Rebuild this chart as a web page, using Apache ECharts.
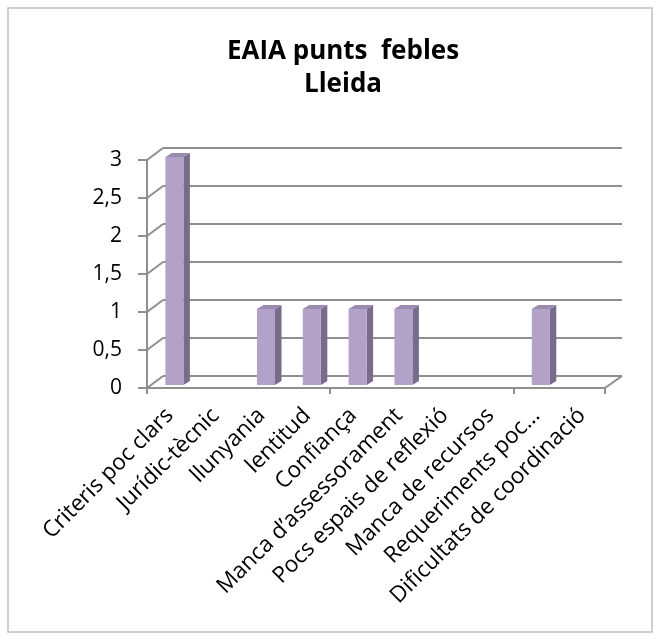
<!DOCTYPE html>
<html>
<head>
<meta charset="utf-8">
<script src="https://cdn.jsdelivr.net/npm/echarts@6/dist/echarts.min.js"></script>
<style>
html,body{margin:0;padding:0;background:#fff;}
#chart{width:661px;height:640px;}
</style>
</head>
<body>
<div id="chart"></div>
<script>
var titleLines = ['EAIA punts  febles', 'Lleida'];
var categories = ['Criteris poc clars', 'Jurídic-tècnic', 'llunyania', 'lentitud', 'Confiança',
  'Manca d\u2019assessorament', 'Pocs espais de reflexió', 'Manca de recursos', 'Requeriments poc…',
  'Dificultats de coordinació'];
var values = [3, 0, 1, 1, 1, 1, 0, 0, 1, 0];
var yTicks = [0, 0.5, 1, 1.5, 2, 2.5, 3];
var yTickLabels = ['0', '0,5', '1', '1,5', '2', '2,5', '3'];

var FONT = 'Open Sans';
var GRID = '#8f8f8f';

var chart = echarts.init(document.getElementById('chart'), null, {renderer: 'canvas'});

var barData = categories.map(function (c, i) { return [i, values[i]]; });

var option = {
  backgroundColor: '#ffffff',
  animation: false,
  title: {
    text: titleLines.join('\n'),
    left: 338, top: 30, textAlign: 'center',
    textStyle: {fontFamily: FONT, fontWeight: 'bold', fontSize: 26, lineHeight: 33, color: '#000'}
  },
  graphic: [{
    type: 'rect', shape: {x: 8, y: 8, width: 644, height: 624},
    style: {fill: 'none', stroke: '#c0c0c0', lineWidth: 1.5}, z: -10
  }],
  grid: [
    {left: 163, right: 39, top: 148, bottom: 264},
    {left: 147, right: 56, top: 160, bottom: 252},
    {left: 147, right: 56, top: 160, bottom: 252}
  ],
  xAxis: [
    {gridIndex: 0, type: 'category', data: categories, show: false},
    {gridIndex: 1, type: 'category', data: categories, boundaryGap: true,
      axisLine: {show: true, lineStyle: {color: GRID, width: 2}},
      axisTick: {show: true, length: 6, lineStyle: {color: GRID, width: 2}},
      axisLabel: {show: false},
      splitLine: {show: false}
    },
    {gridIndex: 2, type: 'category', data: categories, boundaryGap: true,
      axisLine: {show: false}, axisTick: {show: false},
      axisLabel: {rotate: 45, interval: 0, margin: 24, fontFamily: FONT, fontSize: 22.5, color: '#000'},
      splitLine: {show: false}
    }
  ],
  yAxis: [
    {gridIndex: 0, type: 'value', min: 0, max: 3, interval: 0.5,
      axisLine: {show: false}, axisTick: {show: false}, axisLabel: {show: false},
      splitLine: {show: true, lineStyle: {color: GRID, width: 2}}
    },
    {gridIndex: 1, type: 'value', min: 0, max: 3, interval: 0.5,
      axisLine: {show: true, lineStyle: {color: GRID, width: 2}},
      axisTick: {show: true, length: 9, lineStyle: {color: GRID, width: 2}},
      axisLabel: {margin: 25, fontFamily: FONT, fontSize: 21, color: '#000',
        formatter: function (v) { var i = yTicks.indexOf(v); return i >= 0 ? yTickLabels[i] : ''; }},
      splitLine: {show: false}
    },
    {gridIndex: 2, type: 'value', min: 0, max: 3, interval: 0.5, show: false}
  ],
  series: [
    {
      type: 'custom', xAxisIndex: 1, yAxisIndex: 1, silent: true, z: 1,
      data: yTicks.map(function (v) { return [0, v]; }),
      renderItem: function (params, api) {
        var p = api.coord([0, api.value(1)]);
        var bw = api.size([1, 0])[0];
        var x = p[0] - bw / 2;
        var kids = [{type: 'line', shape: {x1: x, y1: p[1], x2: x + 16, y2: p[1] - 12},
          style: {stroke: GRID, lineWidth: 2}}];
        if (api.value(1) === 0) {
          var xr = x + bw * categories.length;
          kids.push({type: 'line', shape: {x1: xr, y1: p[1], x2: xr + 17, y2: p[1] - 12},
            style: {stroke: GRID, lineWidth: 2}});
        }
        return {type: 'group', children: kids};
      }
    },
    {
      type: 'custom', xAxisIndex: 1, yAxisIndex: 1, silent: true, z: 3,
      data: barData,
      renderItem: function (params, api) {
        var v = api.value(1);
        if (!v) return null;
        var top = api.coord([api.value(0), v]);
        var base = api.coord([api.value(0), 0]);
        var cx = top[0] + 4.5, yt = top[1] - 3, yb = base[1] - 3;
        var w = 18, dx = 6.5, dy = -4;
        var x0 = cx - w / 2, x1 = cx + w / 2;
        return {type: 'group', children: [
          {type: 'polygon', shape: {points: [[x1, yt], [x1 + dx, yt + dy], [x1 + dx, yb + dy], [x1, yb]]},
            style: {fill: '#786b8c'}},
          {type: 'polygon', shape: {points: [[x0, yt], [x0 + dx, yt + dy], [x1 + dx, yt + dy], [x1, yt]]},
            style: {fill: '#9a8bb0'}},
          {type: 'rect', shape: {x: x0, y: yt, width: w, height: yb - yt},
            style: {fill: '#b3a2c7'}}
        ]};
      }
    }
  ]
};
chart.setOption(option);
</script>
</body>
</html>
